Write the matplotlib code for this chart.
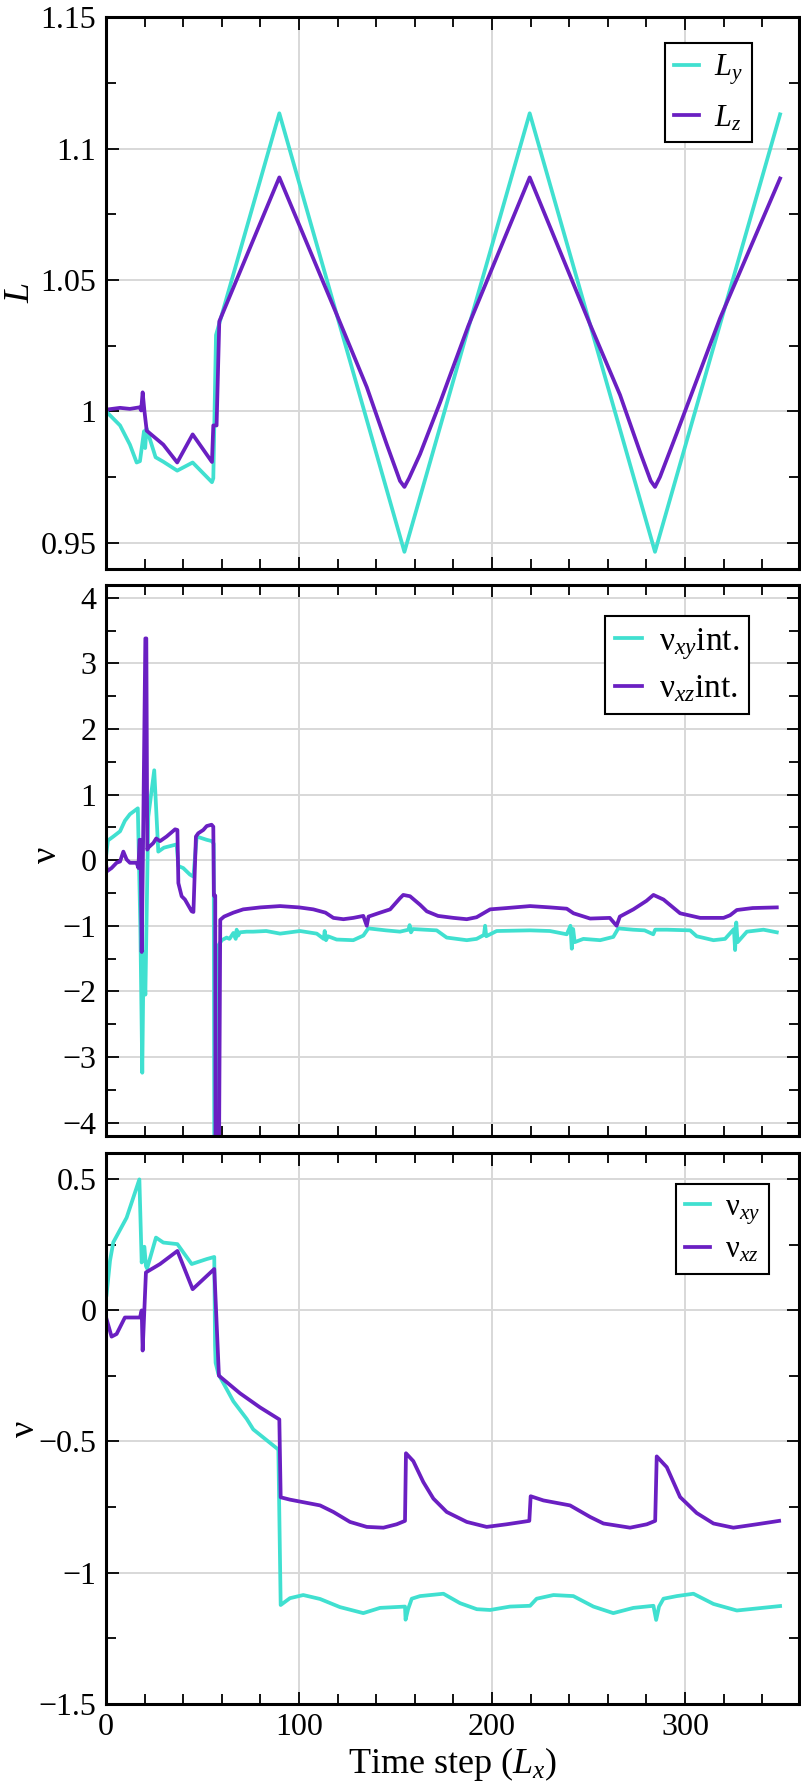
import matplotlib
matplotlib.use('Agg')
import matplotlib.pyplot as plt
from matplotlib.ticker import MultipleLocator, FuncFormatter

plt.rcParams['font.family'] = ['Liberation Serif', 'DejaVu Serif']
plt.rcParams['mathtext.fontset'] = 'custom'
plt.rcParams['mathtext.rm'] = 'Liberation Serif'
plt.rcParams['mathtext.it'] = 'Liberation Serif:italic'

TURQ = '#40e0d0'
PURP = '#6a1fc2'

# --- top panel: box lengths
ly_x = [0, 7.3, 12.4, 15.9, 17.6, 19.7, 20.3, 21.0, 25.7, 29.7, 36.9, 44.9, 54.9, 55.6,
        57.0, 89.8, 154.6, 219.5, 284.4, 349.2]
ly_y = [1.0, 0.9946, 0.9873, 0.9805, 0.981, 0.9924, 0.986, 0.9935, 0.9825, 0.9808, 0.9774,
        0.9805, 0.9730, 0.9745, 1.029, 1.1134, 0.9465, 1.1134, 0.9465, 1.1130]
lz_x = [0, 7.3, 12.4, 17.4, 18.2, 19.0, 19.9, 21.1, 29.7, 36.9, 44.9, 54.9, 55.6, 57.3,
        58.7, 89.8, 119.5, 135.1, 145.4, 152.3, 154.6, 157.0, 162.7, 173.1, 187.7, 219.5,
        250.8, 266.3, 276.7, 282.2, 284.4, 287.0, 295.7, 318.1, 349.2]
lz_y = [1.0006, 1.0013, 1.0009, 1.0015, 1.0003, 1.0072, 1.0002, 0.9926, 0.9873, 0.9805,
        0.9912, 0.9807, 0.9946, 0.9946, 1.0342, 1.0890, 1.0369, 1.0092, 0.9875, 0.9735,
        0.9712, 0.9745, 0.9837, 1.0034, 1.0325, 1.0890, 1.0330, 1.0062, 0.9844, 0.9735,
        0.9712, 0.9750, 0.9917, 1.0354, 1.0886]

# --- middle panel: integrated Poisson ratios
nxy_int_x = [0, 1.0, 3.8, 7.3, 9.8, 12.4, 16.5, 17.8, 18.8, 19.5, 20.4, 21.9, 25.0, 27.1,
             30.0, 36.6, 37.5, 40.0, 43.5, 45.3, 47.0, 52.2, 54.9, 55.8, 56.2, 57.5, 58.2,
             60.0, 62.5, 64.0, 66.0, 67.2, 67.7, 68.5, 69.4, 72.9, 76.3, 83.0, 90.2, 100.5,
             109.2, 112.8, 113.3, 114.0, 115.0, 119.5, 128.1, 133.3, 135.9, 145.0, 152.3,
             156.7, 157.3, 158.0, 159.0, 165.0, 171.3, 176.5, 186.9, 192.0, 195.8, 196.4,
             197.0, 199.0, 202.4, 219.7, 230.0, 238.7, 240.6, 241.3, 242.0, 242.8, 247.3,
             256.0, 262.8, 265.4, 273.0, 279.0, 283.5, 284.5, 290.5, 302.6, 306.0, 314.7,
             320.7, 325.3, 325.9, 326.5, 327.2, 332.0, 340.6, 347.5]
nxy_int_y = [0.05, 0.30, 0.36, 0.44, 0.60, 0.70, 0.79, -1.0, -3.24, -1.40, -2.05, 0.66, 1.37,
             0.13, 0.19, 0.24, -0.09, -0.12, -0.22, -0.25, 0.36, 0.31, 0.29, 0.25, -6.0, -6.0,
             -1.30, -1.22, -1.18, -1.20, -1.11, -1.20, -1.06, -1.15, -1.10, -1.09, -1.09,
             -1.08, -1.12, -1.08, -1.12, -1.20, -1.08, -1.22, -1.16, -1.21, -1.22, -1.15,
             -1.04, -1.07, -1.09, -1.06, -0.99, -1.10, -1.05, -1.06, -1.07, -1.18, -1.22,
             -1.20, -1.14, -1.00, -1.16, -1.13, -1.08, -1.07, -1.08, -1.13, -1.00, -1.35,
             -1.05, -1.25, -1.20, -1.22, -1.17, -1.04, -1.06, -1.07, -1.13, -1.06, -1.06,
             -1.07, -1.16, -1.22, -1.20, -1.05, -1.37, -0.95, -1.25, -1.09, -1.06, -1.10]
nxz_int_x = [0, 0.5, 2.9, 5.5, 7.3, 9.0, 10.7, 12.4, 15.9, 16.8, 17.4, 17.9, 18.5, 19.2,
             20.4, 20.9, 21.4, 21.9, 24.5, 26.0, 28.0, 31.4, 35.8, 37.0, 37.5, 39.2, 40.9,
             44.4, 45.3, 46.6, 47.8, 50.4, 52.2, 54.7, 55.6, 55.9, 56.6, 56.8, 58.3, 59.2,
             61.2, 66.0, 71.1, 80.0, 90.2, 100.0, 107.4, 113.7, 117.8, 123.0, 128.1, 133.3,
             135.1, 136.0, 142.0, 147.2, 152.3, 154.0, 157.5, 162.7, 166.2, 172.0, 180.0,
             186.9, 192.0, 199.0, 207.6, 219.7, 230.0, 238.7, 242.2, 250.8, 261.0, 264.5,
             266.2, 273.2, 280.0, 283.6, 288.8, 297.4, 307.8, 319.9, 323.3, 326.8, 335.0,
             347.5]
nxz_int_y = [-0.05, -0.17, -0.12, -0.04, -0.02, 0.13, 0.01, -0.04, -0.04, -0.12, 0.31, 0.31,
             -1.40, 0.20, 3.38, 3.38, 0.16, 0.19, 0.26, 0.33, 0.29, 0.36, 0.47, 0.46, -0.35,
             -0.55, -0.60, -0.78, -0.79, 0.36, 0.41, 0.46, 0.52, 0.54, 0.51, -0.54, -0.54,
             -6.0, -6.0, -0.91, -0.86, -0.80, -0.75, -0.72, -0.70, -0.72, -0.75, -0.80,
             -0.88, -0.90, -0.88, -0.85, -1.00, -0.86, -0.80, -0.75, -0.58, -0.53, -0.55,
             -0.68, -0.78, -0.85, -0.88, -0.90, -0.87, -0.75, -0.73, -0.70, -0.72, -0.74,
             -0.81, -0.89, -0.88, -1.00, -0.86, -0.75, -0.62, -0.53, -0.60, -0.81, -0.88,
             -0.88, -0.84, -0.76, -0.73, -0.72]

# --- bottom panel: instantaneous Poisson ratios
nxy_x = [0.3, 2.1, 3.8, 10.7, 17.3, 18.5, 19.3, 19.9, 20.7, 21.3, 25.9, 29.7, 37.0, 44.4,
         52.2, 56.1, 56.5, 56.8, 58.2, 66.0, 72.9, 76.3, 89.3, 90.5, 95.3, 102.2, 110.9,
         121.2, 133.3, 142.0, 154.9, 155.2, 156.5, 158.4, 162.7, 174.8, 183.4, 192.1, 199.0,
         209.3, 219.7, 223.1, 231.8, 242.1, 252.5, 262.8, 273.2, 283.6, 285.0, 286.5, 288.8,
         295.7, 304.3, 314.7, 326.8, 349.2]
nxy_y = [0.06, 0.19, 0.26, 0.354, 0.50, 0.183, 0.24, 0.243, 0.17, 0.16, 0.278, 0.259, 0.253,
         0.177, 0.196, 0.204, -0.134, -0.20, -0.242, -0.347, -0.414, -0.454, -0.531, -1.124,
         -1.098, -1.086, -1.101, -1.132, -1.155, -1.135, -1.13, -1.18, -1.14, -1.10, -1.09,
         -1.081, -1.117, -1.14, -1.143, -1.13, -1.127, -1.10, -1.086, -1.09, -1.13, -1.155,
         -1.135, -1.127, -1.181, -1.13, -1.10, -1.09, -1.081, -1.12, -1.145, -1.128]
nxz_x = [0.3, 2.9, 5.5, 9.8, 17.6, 18.5, 19.0, 19.7, 20.7, 28.0, 37.0, 44.9, 56.1, 58.5,
         69.4, 79.8, 89.8, 90.5, 95.3, 110.9, 117.8, 126.4, 135.1, 143.7, 150.6, 154.9,
         155.4, 159.2, 164.4, 169.6, 176.5, 186.9, 197.2, 207.6, 219.3, 220.0, 226.6, 240.4,
         250.8, 257.7, 271.5, 280.2, 284.5, 285.3, 290.5, 297.4, 306.0, 314.7, 325.0, 337.1,
         348.7]
nxz_y = [-0.033, -0.10, -0.09, -0.027, -0.027, 0.0, -0.153, -0.03, 0.145, 0.177, 0.227,
         0.081, 0.158, -0.249, -0.316, -0.37, -0.416, -0.713, -0.722, -0.744, -0.769,
         -0.807, -0.826, -0.829, -0.816, -0.803, -0.545, -0.575, -0.655, -0.718, -0.769,
         -0.807, -0.826, -0.816, -0.803, -0.709, -0.725, -0.744, -0.788, -0.813, -0.829,
         -0.816, -0.803, -0.557, -0.598, -0.712, -0.773, -0.813, -0.829, -0.816, -0.803]


def tick_fmt(v, pos):
    return ('%g' % (round(v, 4) + 0.0)).replace('-', '\u2212')


def style_axis(ax, ylim, ymajor, yminor):
    ax.set_xlim(0, 359)
    ax.set_ylim(*ylim)
    ax.xaxis.set_major_locator(MultipleLocator(100))
    ax.xaxis.set_minor_locator(MultipleLocator(20))
    ax.yaxis.set_major_locator(MultipleLocator(ymajor))
    ax.yaxis.set_minor_locator(MultipleLocator(yminor))
    ax.yaxis.set_major_formatter(FuncFormatter(tick_fmt))
    ax.xaxis.set_major_formatter(FuncFormatter(tick_fmt))
    ax.tick_params(which='both', direction='in', top=True, right=True, labelsize=23, width=1.3)
    ax.tick_params(which='major', length=9, pad=7)
    ax.tick_params(which='minor', length=7)
    for s in ax.spines.values():
        s.set_linewidth(2.2)
    ax.grid(True, which='major', color='#d8d8d8', linewidth=1.4)
    ax.set_axisbelow(True)


def add_legend(ax, anchor, size, spacing):
    leg = ax.legend(loc='upper right', bbox_to_anchor=anchor, fontsize=size, fancybox=False,
                    framealpha=1, edgecolor='black', handlelength=0.8, handletextpad=0.5,
                    labelspacing=spacing, borderpad=0.3, borderaxespad=0)
    leg.get_frame().set_linewidth(1.5)


fig = plt.figure(figsize=(8.01, 17.84))
ax1 = fig.add_axes([0.1323, 0.6811, 0.8652, 0.3093])
ax2 = fig.add_axes([0.1323, 0.3634, 0.8652, 0.3089], sharex=ax1)
ax3 = fig.add_axes([0.1323, 0.0451, 0.8652, 0.3085], sharex=ax1)

lw = 2.7
ax1.plot(ly_x, ly_y, color=TURQ, lw=lw, label=r'$L_y$')
ax1.plot(lz_x, lz_y, color=PURP, lw=lw, label=r'$L_z$')
style_axis(ax1, (0.94, 1.15), 0.05, 0.025)
ax1.set_ylabel(r'$L$', fontsize=26)
ax1.yaxis.set_label_coords(-0.100, 0.5)
ax1.tick_params(labelbottom=False)
add_legend(ax1, (0.932, 0.953), 22, 0.55)

ax2.plot(nxy_int_x, nxy_int_y, color=TURQ, lw=lw, label='ν$_{xy}$int.')
ax2.plot(nxz_int_x, nxz_int_y, color=PURP, lw=lw, label='ν$_{xz}$int.')
style_axis(ax2, (-4.2, 4.2), 1, 0.5)
ax2.set_ylabel('ν', fontsize=26)
ax2.yaxis.set_label_coords(-0.060, 0.51)
ax2.tick_params(labelbottom=False)
add_legend(ax2, (0.928, 0.943), 24, 0.35)

ax3.plot(nxy_x, nxy_y, color=TURQ, lw=lw, label='ν$_{xy}$')
ax3.plot(nxz_x, nxz_y, color=PURP, lw=lw, label='ν$_{xz}$')
style_axis(ax3, (-1.5, 0.6), 0.5, 0.25)
ax3.set_ylabel('ν', fontsize=26)
ax3.yaxis.set_label_coords(-0.093, 0.5)
ax3.set_xlabel('Time step ($L_x$)', fontsize=26, labelpad=2)
add_legend(ax3, (0.957, 0.944), 22, 0.3)

fig.savefig('out.png', dpi=100)
